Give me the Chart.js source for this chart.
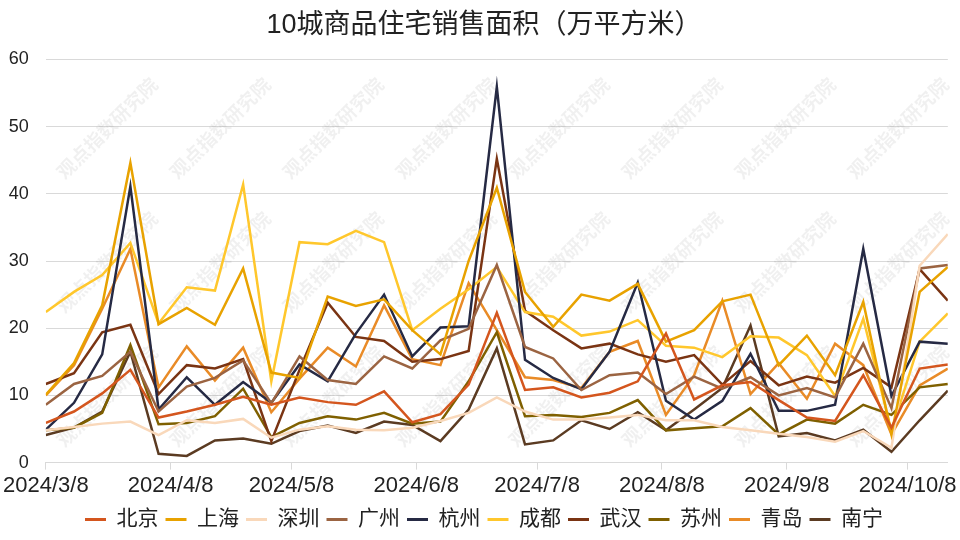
<!DOCTYPE html>
<html>
<head>
<meta charset="utf-8">
<script src="https://cdn.jsdelivr.net/npm/chart.js@4/dist/chart.umd.min.js"></script>
<style>
  html, body { margin: 0; padding: 0; background: #fff; }
  #box { width: 960px; height: 540px; }
</style>
</head>
<body>
<div id="box"><canvas id="myChart"></canvas></div>
<script>
// weekly dates
const weeks = [
  "2024/3/8", "2024/3/15", "2024/3/22", "2024/3/29", "2024/4/5", "2024/4/12", "2024/4/19", "2024/4/26",
  "2024/5/3", "2024/5/10", "2024/5/17", "2024/5/24", "2024/5/31", "2024/6/7", "2024/6/14", "2024/6/21",
  "2024/6/28", "2024/7/5", "2024/7/12", "2024/7/19", "2024/7/26", "2024/8/2", "2024/8/9", "2024/8/16",
  "2024/8/23", "2024/8/30", "2024/9/6", "2024/9/13", "2024/9/20", "2024/9/27", "2024/10/4", "2024/10/11",
  "2024/10/18"
];
const tickLabels = ["2024/3/8", "2024/4/8", "2024/5/8", "2024/6/8", "2024/7/8", "2024/8/8", "2024/9/8", "2024/10/8"];

const cities = ["北京", "上海", "深圳", "广州", "杭州", "成都", "武汉", "苏州", "青岛", "南宁"];
const colors = ["#D4561E", "#E8A200", "#F9D8BA", "#9B6442", "#262A44", "#FFC72C", "#7A3413", "#7F6000", "#E98B27", "#5B3B22"];

const beijing = [5.9, 7.6, 10.3, 13.8, 6.7, 7.6, 8.6, 9.8, 8.6, 9.7, 9.0, 8.6, 10.6, 6.0, 7.2, 11.6, 22.3, 10.8, 11.2, 9.7, 10.4, 12.1, 19.2, 9.4, 11.5, 12.0, 9.3, 6.7, 6.2, 13.0, 5.2, 14.0, 14.6];
const shanghai = [10.1, 14.8, 23.4, 44.6, 20.6, 23.0, 20.5, 28.9, 13.4, 12.6, 24.7, 23.3, 24.3, 19.7, 16.1, 30.0, 40.9, 25.4, 20.2, 25.0, 24.1, 26.6, 18.0, 19.7, 24.0, 25.0, 14.5, 18.9, 13.0, 23.9, 4.2, 25.4, 29.1];
const shenzhen = [4.8, 5.3, 5.8, 6.1, 4.1, 6.3, 5.9, 6.5, 3.7, 4.9, 5.4, 4.9, 4.8, 5.2, 6.2, 7.4, 9.7, 7.6, 6.4, 6.4, 6.7, 7.1, 6.3, 6.3, 5.3, 4.8, 4.3, 3.8, 3.1, 4.7, 2.2, 29.3, 34.0];
const guangzhou = [8.6, 11.7, 12.9, 16.5, 7.6, 11.3, 12.6, 15.2, 8.8, 15.8, 12.3, 11.7, 15.8, 14.0, 18.2, 19.9, 29.4, 17.2, 15.5, 10.8, 13.0, 13.4, 10.2, 12.8, 11.0, 12.7, 10.0, 11.1, 9.7, 17.7, 8.1, 28.9, 29.4];
const hangzhou = [4.9, 8.9, 16.1, 41.1, 7.9, 12.7, 8.6, 12.0, 8.9, 14.6, 12.1, 19.2, 25.0, 15.8, 20.1, 20.3, 55.9, 15.3, 12.6, 10.9, 16.5, 26.8, 9.2, 6.4, 9.2, 16.2, 7.7, 7.7, 8.6, 31.8, 9.9, 18.0, 17.7];
const chengdu = [22.4, 25.4, 27.9, 32.7, 20.7, 26.1, 25.6, 41.4, 12.1, 32.8, 32.5, 34.5, 32.8, 19.7, 22.9, 25.8, 29.1, 22.4, 21.7, 18.9, 19.5, 21.2, 17.4, 17.1, 15.7, 18.8, 18.6, 16.0, 9.9, 21.4, 4.7, 18.0, 22.2];
const wuhan = [11.7, 13.3, 19.4, 20.5, 10.2, 14.5, 14.0, 15.4, 3.2, 13.8, 23.8, 18.7, 18.1, 15.0, 15.4, 16.6, 45.2, 22.6, 19.7, 17.0, 17.7, 16.1, 15.0, 16.0, 11.6, 15.1, 11.5, 12.8, 11.9, 14.1, 11.2, 28.8, 24.1];
const suzhou = [4.8, 5.2, 7.4, 17.5, 5.7, 5.9, 6.9, 11.0, 3.8, 5.9, 6.9, 6.4, 7.4, 5.8, 6.1, 12.1, 19.4, 6.9, 7.1, 6.8, 7.4, 9.3, 4.8, 5.1, 5.4, 8.1, 4.2, 6.4, 5.8, 8.6, 7.1, 11.2, 11.7];
const qingdao = [10.0, 14.5, 22.9, 31.8, 11.2, 17.3, 12.2, 17.1, 7.5, 12.5, 17.1, 14.3, 23.4, 15.4, 14.5, 26.7, 19.7, 12.7, 12.3, 11.1, 16.5, 18.1, 7.1, 13.0, 24.1, 10.2, 14.8, 9.5, 17.7, 14.5, 4.2, 11.5, 14.0];
const nanning = [4.1, 5.2, 7.6, 16.5, 1.3, 1.0, 3.3, 3.6, 2.8, 4.7, 5.5, 4.4, 6.1, 5.6, 3.2, 7.9, 17.0, 2.7, 3.3, 6.3, 5.0, 7.5, 4.8, 7.9, 11.1, 20.4, 3.9, 4.4, 3.3, 4.9, 1.6, 6.3, 10.7];

const series = [beijing, shanghai, shenzhen, guangzhou, hangzhou, chengdu, wuhan, suzhou, qingdao, nanning];

function dayOf(s) {
  const p = s.split("/").map(Number);
  return Date.UTC(p[0], p[1] - 1, p[2]) / 86400000;
}
const day0 = dayOf(weeks[0]);
const xs = weeks.map((w) => dayOf(w) - day0);
const tickDays = tickLabels.map((t) => dayOf(t) - day0);

const FONT = "'Liberation Sans', 'Noto Sans CJK SC', sans-serif";
const GRID = "#D9D9D9";

const datasets = series.map((vals, i) => ({
  label: cities[i],
  data: vals.map((v, j) => ({ x: xs[j], y: v })),
  borderColor: colors[i],
  backgroundColor: colors[i],
  borderWidth: 2.5,
  pointRadius: 0,
  tension: 0,
}));

// faint diagonal watermark behind the lines, and a small nudge of title + legend
const extras = {
  id: "extras",
  afterLayout(chart) {
    chart.legend.left += 10;
    chart.legend.right += 10;
    chart.titleBlock.left += 10;
    chart.titleBlock.right += 10;
  },
  beforeDatasetsDraw(chart) {
    const c = chart.ctx;
    c.save();
    c.font = "bold 19px 'Noto Sans CJK SC'";
    c.fillStyle = "rgba(0,0,0,0.06)";
    c.textAlign = "center";
    c.textBaseline = "middle";
    for (let r = 0; r < 3; r++) {
      for (let k = 0; k < 8; k++) {
        c.save();
        c.translate(107 + k * 113, 128 + r * 134);
        c.rotate(-Math.PI / 4);
        c.fillText("观点指数研究院", 0, 0);
        c.restore();
      }
    }
    c.restore();
  },
};

const ctx = document.getElementById("myChart");
new Chart(ctx, {
  type: "line",
  data: { datasets },
  plugins: [extras],
  options: {
    responsive: true,
    maintainAspectRatio: false,
    animation: false,
    layout: { padding: { left: 0, right: 12, top: 0, bottom: 0 } },
    plugins: {
      title: {
        display: true,
        text: "10城商品住宅销售面积（万平方米）",
        color: "#222",
        font: { family: FONT, size: 27, weight: "normal" },
        padding: { top: 9, bottom: 18 },
      },
      legend: {
        position: "bottom",
        labels: {
          color: "#222",
          font: { family: FONT, size: 21 },
          boxWidth: 21,
          boxHeight: 3,
          padding: 7,
          generateLabels: (chart) =>
            Chart.defaults.plugins.legend.labels.generateLabels(chart).map((l) => ({ ...l, lineWidth: 0 })),
        },
      },
      tooltip: { enabled: false },
    },
    scales: {
      x: {
        type: "linear",
        min: 0,
        max: xs[xs.length - 1],
        afterBuildTicks: (axis) => {
          axis.ticks = tickDays.map((v) => ({ value: v }));
        },
        ticks: {
          autoSkip: false,
          maxRotation: 0,
          color: "#222",
          font: { family: FONT, size: 22 },
          padding: 3,
          callback: (v) => tickLabels[tickDays.indexOf(v)],
        },
        grid: { drawOnChartArea: false, drawTicks: true, tickLength: 7, color: GRID },
        border: { display: true, color: GRID },
      },
      y: {
        min: 0,
        max: 60,
        afterFit: (axis) => { axis.width = 45; },
        ticks: {
          stepSize: 10,
          color: "#222",
          font: { family: FONT, size: 18 },
          padding: 17,
        },
        grid: { color: GRID, drawTicks: false },
        border: { display: false },
      },
    },
  },
});
</script>
</body>
</html>
